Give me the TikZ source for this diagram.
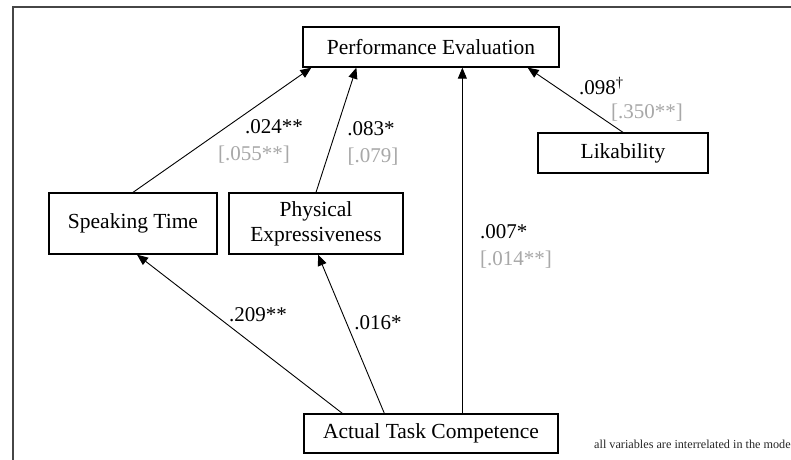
\documentclass[tikz,border=0pt]{standalone}
\usepackage{fontspec}
\setmainfont{Liberation Serif}
\usetikzlibrary{arrows.meta,calc}
\definecolor{framegray}{RGB}{70,70,70}
\definecolor{coefgray}{RGB}{168,168,168}
\tikzset{
  varbox/.style={draw=black, line width=1.3pt, rectangle, inner sep=0pt, align=center,
    font=\fontsize{21.5}{25}\selectfont},
  path/.style={draw=black, line width=0.9pt, -{Triangle[length=11pt,width=9pt]}},
  coef/.style={inner sep=0pt, font=\fontsize{21}{24}\selectfont, text=black},
  coefg/.style={inner sep=0pt, font=\fontsize{21}{24}\selectfont, text=coefgray},
  note/.style={inner sep=0pt, font=\fontsize{12.2}{15}\selectfont, text=black!85}
}
\begin{document}
\begin{tikzpicture}[x=1pt,y=-1pt]
\clip (0,0) rectangle (791,459);
\fill[white] (0,0) rectangle (791,459);
% frame
\draw[framegray, line width=2pt] (13,470) -- (13,7) -- (800,7);

% variables
\node[varbox, minimum width=256pt, minimum height=40pt] (pe)  at (431,47) {Performance Evaluation};
\node[varbox, minimum width=170pt, minimum height=40pt] (lik) at (623,153) {Likability};
\node[varbox, minimum width=168pt, minimum height=61pt] (st)  at (133,223.5) {Speaking Time};
\node[varbox, minimum width=174pt, minimum height=61pt] (phy) at (316,223.5) {Physical\\Expressiveness};
\node[varbox, minimum width=254pt, minimum height=39pt] (atc) at (431,433.5) {Actual Task Competence};

% paths
\draw[path] (st.north) -- ($(pe.south west)+(9,0)$);
\draw[path] (phy.north) -- ($(pe.south west)+(54,0)$);
\draw[path] ($(atc.north west)+(159,0)$) -- ($(pe.south west)+(160,0)$);
\draw[path] (lik.north) -- ($(pe.south east)+(-32,0)$);
\draw[path] ($(atc.north west)+(39,0)$) -- ($(st.south)+(4,0)$);
\draw[path] ($(atc.north west)+(81,0)$) -- ($(phy.south)+(2,0)$);

% coefficients
\node[coef]  (c1)  at (274,127) {.024**};
\node[coefg] (c1g) at (254,155) {[.055**]};
\node[coef]  (c2)  at (371,129) {.083*};
\node[coefg] (c2g) at (373,157) {[.079]};
\node[coef, anchor=west]  (c3)  at (579,86) {.098\textsuperscript{\textdagger}};
\node[coefg] (c3g) at (647,113) {[.350**]};
\node[coef, anchor=west]  (c4)  at (480,232) {.007*};
\node[coefg, anchor=west] (c4g) at (480,260) {[.014**]};
\node[coef]  (c5)  at (258,315) {.209**};
\node[coef]  (c6)  at (378,323) {.016*};

% note
\node[note, anchor=base west] (nt) at (594,448) {all variables are interrelated in the mode};
\end{tikzpicture}
\end{document}
